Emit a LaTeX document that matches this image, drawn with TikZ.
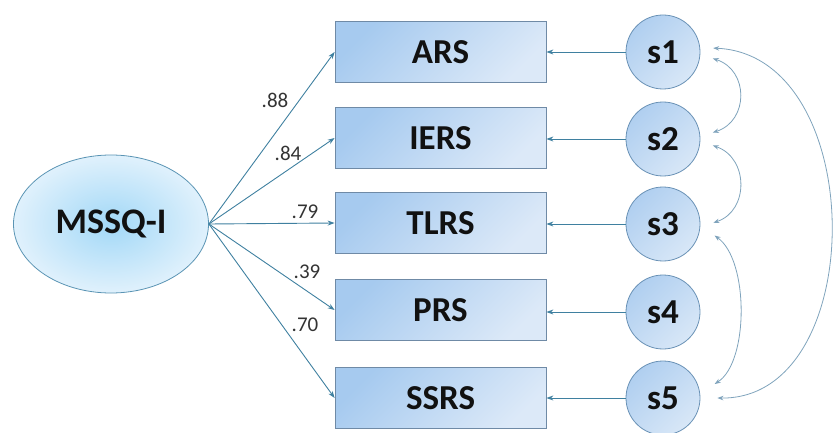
\documentclass[tikz,border=0pt]{standalone}
\usepackage{fontspec}
\setmainfont{Carlito}
\usetikzlibrary{arrows.meta,shapes.geometric}
\definecolor{boxA}{HTML}{A6CAEF}
\definecolor{boxB}{HTML}{DCE9F8}
\definecolor{boxLine}{HTML}{6F8AA6}
\definecolor{circA}{HTML}{B0CFF0}
\definecolor{circB}{HTML}{D8E7F7}
\definecolor{circLine}{HTML}{6A92B6}
\definecolor{ellIn}{HTML}{A2D8F7}
\definecolor{ellOut}{HTML}{E0F1FC}
\definecolor{ellLine}{HTML}{5A94B4}
\definecolor{linkCol}{HTML}{3F80A0}
\definecolor{curveCol}{HTML}{7FA3BC}
\definecolor{txt}{HTML}{111111}
\begin{document}
\begin{tikzpicture}[x=1pt,y=-1pt,
  box/.style={draw=boxLine, line width=0.8pt, minimum width=211pt, minimum height=61pt,
    top color=boxA, bottom color=boxB, shading angle=45, inner sep=0pt,
    text=txt, font=\bfseries\fontsize{35}{40}\selectfont},
  err/.style={circle, draw=circLine, line width=0.8pt, minimum size=74pt, inner sep=0pt,
    top color=circA, bottom color=circB, shading angle=45,
    text=txt, font=\bfseries\fontsize{35}{40}\selectfont},
  lat/.style={ellipse, draw=ellLine, line width=0.8pt, minimum width=195pt, minimum height=138pt,
    inner color=ellIn, outer color=ellOut, inner sep=0pt,
    text=txt, font=\bfseries\fontsize{36}{40}\selectfont},
  link/.style={draw=linkCol, line width=0.9pt, -{Stealth[length=7pt,width=5pt]}},
  cov/.style={draw=curveCol, line width=0.8pt, {Stealth[length=6pt,width=4.5pt]}-{Stealth[length=6pt,width=4.5pt]}},
  lbl/.style={text=black!80, font=\fontsize{21}{25}\selectfont, inner sep=0pt}
]
\useasboundingbox (0,0) rectangle (833,433);

\node[lat] (m) at (111,224) {MSSQ-I};

\node[box] (ars)  at (440.5,52)  {ARS};
\node[box] (iers) at (440.5,138) {IERS};
\node[box] (tlrs) at (440.5,223) {TLRS};
\node[box] (prs)  at (440.5,310) {PRS};
\node[box] (ssrs) at (440.5,398) {SSRS};

\node[err] (s1) at (663,52)  {s1};
\node[err] (s2) at (663,139) {s2};
\node[err] (s3) at (663,224) {s3};
\node[err] (s4) at (663,312) {s4};
\node[err] (s5) at (663,398) {s5};

\draw[link] (m.east) -- (ars.west);
\draw[link] (m.east) -- (iers.west);
\draw[link] (m.east) -- (tlrs.west);
\draw[link] (m.east) -- (prs.west);
\draw[link] (m.east) -- (ssrs.west);

\node[lbl] (l1) at (275,100) {.88};
\node[lbl] (l2) at (288,153) {.84};
\node[lbl] (l3) at (305,212) {.79};
\node[lbl] (l4) at (307,272) {.39};
\node[lbl] (l5) at (305,325) {.70};

\draw[link] (s1.west) -- (ars.east |- s1.west);
\draw[link] (s2.west) -- (iers.east |- s2.west);
\draw[link] (s3.west) -- (tlrs.east |- s3.west);
\draw[link] (s4.west) -- (prs.east |- s4.west);
\draw[link] (s5.west) -- (ssrs.east |- s5.west);

\draw[cov] ([xshift=13pt]s1.-10) .. controls (749,70) and (749,121) .. ([xshift=13pt]s2.10);
\draw[cov] ([xshift=13pt]s2.-10) .. controls (749,158) and (749,211) .. ([xshift=13pt]s3.2);
\draw[cov] ([xshift=16pt]s3.-18) .. controls (749,260) and (749,362) .. ([xshift=17pt]s5.22);
\draw[cov] ([xshift=13pt]s1.6) .. controls (870,55) and (870,400) .. ([xshift=17pt]s5.0);
\end{tikzpicture}
\end{document}
